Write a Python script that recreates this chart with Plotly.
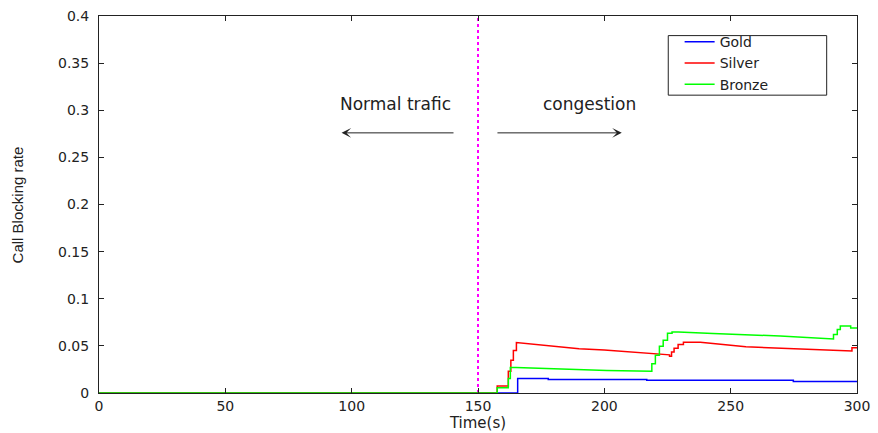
import plotly.graph_objects as go

# ---- data ----
gold_t = [0, 165.7, 165.7, 177.8, 177.8, 216.8, 216.8, 274.8, 274.8, 300]
gold_v = [0, 0, 0.0153, 0.0153, 0.0143, 0.0143, 0.0135, 0.0135, 0.0122, 0.0122]

silver_t = [0, 157.6, 157.6, 162.0, 162.0, 163.0, 163.0, 164.0, 164.0, 165.2, 165.2,
            168, 190, 200, 218.8, 225.8, 225.8, 226.6, 226.6, 227.6, 227.6, 229.2, 229.2,
            231.3, 231.3, 238, 256, 283, 298, 298, 300]
silver_v = [0, 0, 0.0075, 0.0075, 0.023, 0.023, 0.0347, 0.0347, 0.045, 0.045, 0.0535,
            0.0528, 0.047, 0.0455, 0.0415, 0.0405, 0.039, 0.039, 0.0435, 0.0435, 0.0475, 0.0475, 0.0514,
            0.0514, 0.0538, 0.0538, 0.049, 0.046, 0.0445, 0.048, 0.048]

bronze_t = [0, 157.6, 157.6, 162.0, 162.0, 162.8, 162.8, 165, 201, 218.8, 218.8, 220.2, 220.2,
            221.8, 221.8, 223.3, 223.3, 225.0, 225.0, 226.8, 226.8, 229.3, 243, 269.6, 290.7,
            290.7, 292.2, 292.2, 293.4, 293.4, 297.5, 297.5, 300]
bronze_v = [0, 0, 0.0057, 0.0057, 0.0153, 0.0153, 0.027, 0.027, 0.0238, 0.023, 0.031, 0.031, 0.040,
            0.040, 0.0496, 0.0496, 0.056, 0.056, 0.0634, 0.0634, 0.0648, 0.0648, 0.063, 0.0605, 0.0573,
            0.062, 0.062, 0.0673, 0.0673, 0.0711, 0.0711, 0.069, 0.069]

boundary_t = [150, 150]
boundary_v = [0, 0.4]

x_ticks = [0, 50, 100, 150, 200, 250, 300]
y_ticks = [0, 0.05, 0.1, 0.15, 0.2, 0.25, 0.3, 0.35, 0.4]
y_tick_text = ["0", "0.05", "0.1", "0.15", "0.2", "0.25", "0.3", "0.35", "0.4"]

FONT = "DejaVu Sans"
INK = "#222222"

fig = go.Figure()
fig.add_trace(go.Scatter(x=boundary_t, y=boundary_v, mode="lines", showlegend=False,
                         line=dict(color="#ff00ff", width=2, dash="dot"), hoverinfo="skip"))
fig.add_trace(go.Scatter(x=gold_t, y=gold_v, mode="lines", name="Gold",
                         line=dict(color="#0000ff", width=1.5)))
fig.add_trace(go.Scatter(x=silver_t, y=silver_v, mode="lines", name="Silver",
                         line=dict(color="#ff0000", width=1.5)))
fig.add_trace(go.Scatter(x=bronze_t, y=bronze_v, mode="lines", name="Bronze",
                         line=dict(color="#00ff00", width=1.5)))

axis_common = dict(showgrid=False, zeroline=False, showline=True, linecolor=INK,
                   linewidth=1, mirror="ticks", ticks="inside", ticklen=5, tickcolor=INK,
                   automargin=False, tickfont=dict(family=FONT, size=14, color=INK))

fig.update_xaxes(range=[0, 300], tickvals=x_ticks, ticktext=[str(v) for v in x_ticks],
                 title=dict(text="Time(s)", font=dict(family=FONT, size=15, color=INK), standoff=2),
                 **axis_common)
fig.update_yaxes(range=[0, 0.4], tickvals=y_ticks, ticktext=y_tick_text, ticklabelstandoff=6,
                 **axis_common)

fig.add_annotation(text="Call Blocking rate", xref="paper", yref="paper", x=-0.107, y=0.5,
                   xanchor="center", yanchor="middle", textangle=-90, showarrow=False,
                   font=dict(family="Liberation Sans Narrow, Liberation Sans", size=15, color=INK))

fig.add_annotation(text="Normal trafic", x=117.5, y=0.307, xref="x", yref="y", showarrow=False,
                   font=dict(family=FONT, size=17, color=INK))
fig.add_annotation(text="congestion", x=194, y=0.307, xref="x", yref="y", showarrow=False,
                   font=dict(family=FONT, size=17, color=INK))
fig.add_annotation(text="", x=96.0, y=0.276, ax=140.9, ay=0.276, xref="x", yref="y",
                   axref="x", ayref="y", showarrow=True, arrowhead=3, arrowsize=1.6,
                   arrowwidth=1, arrowcolor=INK)
fig.add_annotation(text="", x=206.9, y=0.276, ax=157.1, ay=0.276, xref="x", yref="y",
                   axref="x", ayref="y", showarrow=True, arrowhead=3, arrowsize=1.6,
                   arrowwidth=1, arrowcolor=INK)

# legend frame
fig.add_shape(type="rect", xref="paper", yref="paper", x0=0.751, x1=0.96, y0=0.79, y1=0.948,
              line=dict(color=INK, width=1), fillcolor="white", layer="above")

fig.update_layout(
    width=878, height=433,
    margin=dict(l=99, r=21, t=16, b=40),
    paper_bgcolor="white", plot_bgcolor="white",
    showlegend=True,
    legend=dict(x=0.766, y=0.973, xanchor="left", yanchor="top", bgcolor="rgba(0,0,0,0)",
                borderwidth=0, font=dict(family=FONT, size=14, color=INK),
                tracegroupgap=0, itemwidth=30),
)

fig.write_html("out.html", config={"displayModeBar": False},
               post_script="document.body.style.margin='0';")
